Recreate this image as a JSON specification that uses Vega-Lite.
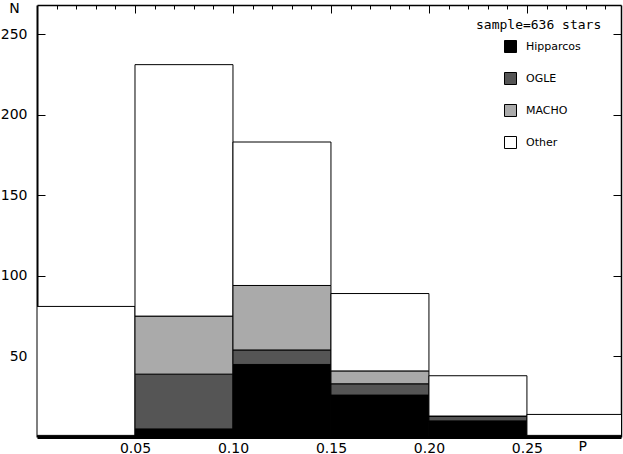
{
  "$schema": "https://vega.github.io/schema/vega-lite/v6.json",
  "autosize": "none",
  "width": 584,
  "height": 432,
  "padding": {"left": 37, "top": 5, "right": 2, "bottom": 17},
  "background": "white",
  "config": {
    "view": {"stroke": null},
    "font": "DejaVu Sans",
    "axis": {"grid": false, "domainColor": "black", "tickColor": "black", "labelColor": "black", "titleColor": "black", "labelFont": "DejaVu Sans", "titleFont": "DejaVu Sans", "labelFontSize": 14, "titleFontSize": 14, "titleFontWeight": "normal"}
  },
  "data": {
    "values": [
      {"start": 0.00, "end": 0.05, "source": "Hipparcos", "rank": 1, "count": 1},
      {"start": 0.00, "end": 0.05, "source": "OGLE", "rank": 2, "count": 0},
      {"start": 0.00, "end": 0.05, "source": "MACHO", "rank": 3, "count": 0},
      {"start": 0.00, "end": 0.05, "source": "Other", "rank": 4, "count": 80},
      {"start": 0.05, "end": 0.10, "source": "Hipparcos", "rank": 1, "count": 5},
      {"start": 0.05, "end": 0.10, "source": "OGLE", "rank": 2, "count": 34},
      {"start": 0.05, "end": 0.10, "source": "MACHO", "rank": 3, "count": 36},
      {"start": 0.05, "end": 0.10, "source": "Other", "rank": 4, "count": 156},
      {"start": 0.10, "end": 0.15, "source": "Hipparcos", "rank": 1, "count": 45},
      {"start": 0.10, "end": 0.15, "source": "OGLE", "rank": 2, "count": 9},
      {"start": 0.10, "end": 0.15, "source": "MACHO", "rank": 3, "count": 40},
      {"start": 0.10, "end": 0.15, "source": "Other", "rank": 4, "count": 89},
      {"start": 0.15, "end": 0.20, "source": "Hipparcos", "rank": 1, "count": 26},
      {"start": 0.15, "end": 0.20, "source": "OGLE", "rank": 2, "count": 7},
      {"start": 0.15, "end": 0.20, "source": "MACHO", "rank": 3, "count": 8},
      {"start": 0.15, "end": 0.20, "source": "Other", "rank": 4, "count": 48},
      {"start": 0.20, "end": 0.25, "source": "Hipparcos", "rank": 1, "count": 10},
      {"start": 0.20, "end": 0.25, "source": "OGLE", "rank": 2, "count": 3},
      {"start": 0.20, "end": 0.25, "source": "MACHO", "rank": 3, "count": 0},
      {"start": 0.20, "end": 0.25, "source": "Other", "rank": 4, "count": 25},
      {"start": 0.25, "end": 0.30, "source": "Hipparcos", "rank": 1, "count": 1},
      {"start": 0.25, "end": 0.30, "source": "OGLE", "rank": 2, "count": 0},
      {"start": 0.25, "end": 0.30, "source": "MACHO", "rank": 3, "count": 0},
      {"start": 0.25, "end": 0.30, "source": "Other", "rank": 4, "count": 13}
    ]
  },
  "transform": [
    {"stack": "count", "groupby": ["start"], "sort": [{"field": "rank", "order": "ascending"}], "as": ["lo", "hi"]}
  ],
  "resolve": {"axis": {"x": "independent", "y": "independent"}},
  "layer": [
    {
      "mark": {"type": "bar", "stroke": "black", "strokeWidth": 1, "clip": true},
      "encoding": {
        "x": {"field": "start", "type": "quantitative", "scale": {"domain": [0, 0.298], "nice": false, "zero": false},
          "axis": {"orient": "bottom", "values": [0.05, 0.1, 0.15, 0.2, 0.25], "format": ".2f", "tickSize": -8, "domainWidth": 3, "labelPadding": 12, "title": "P", "titleAngle": 0, "titleX": 541, "titleY": 9, "titleBaseline": "middle", "titleAnchor": "start"}},
        "x2": {"field": "end"},
        "y": {"field": "lo", "type": "quantitative", "scale": {"domain": [0, 268], "nice": false},
          "axis": {"orient": "left", "values": [50, 100, 150, 200, 250], "tickSize": -8, "domainWidth": 2, "labelPadding": 18, "title": "N", "titleAngle": 0, "titleX": -23, "titleY": 3, "titleBaseline": "middle", "titleAlign": "center"}},
        "y2": {"field": "hi"},
        "fill": {"field": "source", "type": "nominal", "scale": {"domain": ["Hipparcos", "OGLE", "MACHO", "Other"], "range": ["#000000", "#555555", "#aaaaaa", "#ffffff"]},
          "legend": {"orient": "none", "legendX": 439, "legendY": 14, "title": "sample=636 stars", "titleFontSize": 13, "titleFontWeight": "normal", "titleFont": "DejaVu Sans Mono", "titleColor": "black", "titlePadding": 8, "symbolType": "square", "symbolSize": 144, "symbolStrokeColor": "black", "symbolStrokeWidth": 1, "symbolOffset": 28, "labelOffset": 9, "labelFontSize": 11, "labelFont": "DejaVu Sans", "labelColor": "black", "rowPadding": 15, "padding": 0}}
      }
    },
    {
      "mark": {"type": "bar", "opacity": 0},
      "encoding": {
        "x": {"field": "start", "type": "quantitative",
          "axis": {"orient": "bottom", "values": [0.01, 0.02, 0.03, 0.04, 0.06, 0.07, 0.08, 0.09, 0.11, 0.12, 0.13, 0.14, 0.16, 0.17, 0.18, 0.19, 0.21, 0.22, 0.23, 0.24, 0.26, 0.27, 0.28, 0.29], "tickSize": -4, "labels": false, "domain": false, "title": null}},
        "x2": {"field": "end"},
        "y": {"field": "lo", "type": "quantitative",
          "axis": {"orient": "right", "values": [50, 100, 150, 200, 250], "tickSize": -8, "labels": false, "domainWidth": 1.5, "title": null}},
        "y2": {"field": "hi"}
      }
    },
    {
      "mark": {"type": "bar", "opacity": 0},
      "encoding": {
        "x": {"field": "start", "type": "quantitative",
          "axis": {"orient": "top", "values": [0.05, 0.1, 0.15, 0.2, 0.25], "tickSize": -8, "labels": false, "domainWidth": 1.5, "title": null}},
        "x2": {"field": "end"},
        "y": {"field": "lo", "type": "quantitative", "axis": null},
        "y2": {"field": "hi"}
      }
    },
    {
      "mark": {"type": "bar", "opacity": 0},
      "encoding": {
        "x": {"field": "start", "type": "quantitative",
          "axis": {"orient": "top", "values": [0.01, 0.02, 0.03, 0.04, 0.06, 0.07, 0.08, 0.09, 0.11, 0.12, 0.13, 0.14, 0.16, 0.17, 0.18, 0.19, 0.21, 0.22, 0.23, 0.24, 0.26, 0.27, 0.28, 0.29], "tickSize": -4, "labels": false, "domain": false, "title": null}},
        "x2": {"field": "end"},
        "y": {"field": "lo", "type": "quantitative", "axis": null},
        "y2": {"field": "hi"}
      }
    }
  ]
}
